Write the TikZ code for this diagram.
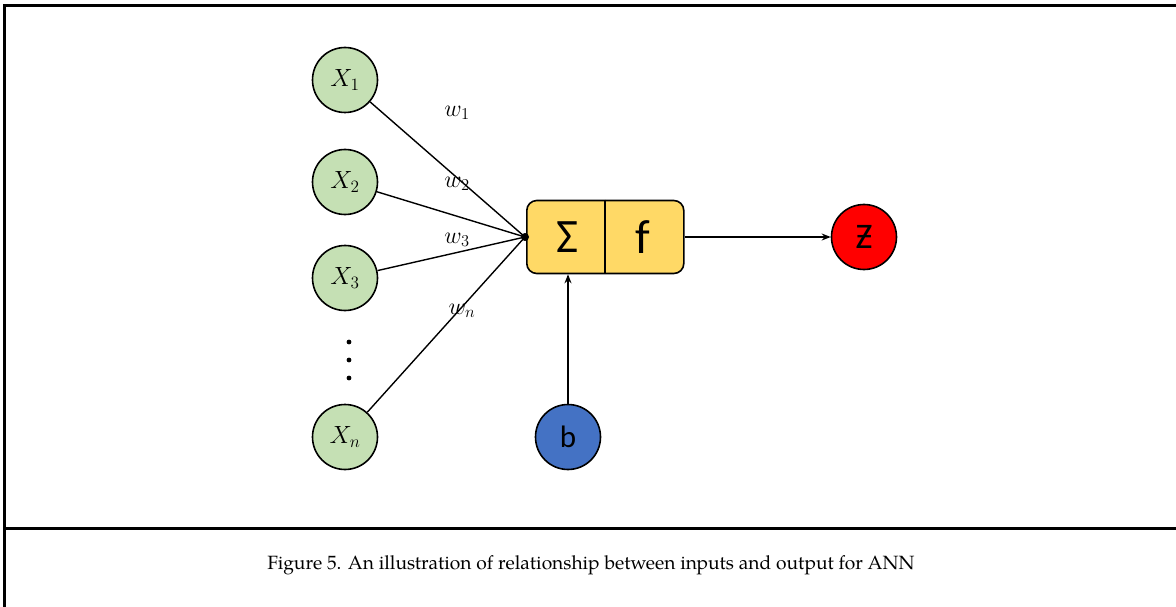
\documentclass[tikz,border=0pt]{standalone}
\usepackage{fontspec}
\newfontfamily\calfont{Carlito}
\newfontfamily\capfont{TeX Gyre Pagella}
\usetikzlibrary{arrows.meta,positioning}
\definecolor{ingreen}{HTML}{C5E0B4}
\definecolor{sumyellow}{HTML}{FFD966}
\definecolor{biasblue}{HTML}{4472C4}
\definecolor{outred}{HTML}{FF0000}
\newcommand{\biglbl}[2]{\scalebox{#1}{$#2$}}

\tikzset{
  neuron/.style={circle, draw=black, line width=1.6pt, minimum size=65pt, inner sep=0pt},
  weight/.style={font=\fontsize{20}{20}\selectfont},
  conn/.style={line width=1.4pt},
}

\begin{document}
\begin{tikzpicture}[x=1pt,y=-1pt]
\useasboundingbox (0,0) rectangle (1176,607);

%draw frame
\draw[line width=3pt] (4,607) -- (4,6) -- (1176,6);
\draw[line width=3pt] (4,528) -- (1176,528);

%draw input neurons
\foreach \i/\y in {1/80,2/182,3/278,n/437}
  \node[neuron, fill=ingreen, font=\fontsize{20}{20}\selectfont] (x\i) at (345,\y) {\biglbl{1.2}{X_{\i}}};
\foreach \y in {342,360,378}
  \fill (349,\y) circle (2.4pt);

%draw summation and activation
\node[draw, rounded corners=10pt, fill=sumyellow, line width=1.6pt,
      minimum width=157pt, minimum height=73pt, anchor=west] (box) at (526,237) {};
\coordinate (div) at (605,237);
\draw[line width=1.4pt] (div |- box.north) -- (div |- box.south);
\node[font=\calfont\fontsize{48}{48}\selectfont] (sigma) at (567,237) {Σ};
\node[font=\calfont\fontsize{48}{48}\selectfont] (act) at (643,237) {f};

%draw weighted connections
\coordinate (junc) at (525,237);
\foreach \i in {1,2,3,n}
  \draw[conn] (x\i) -- (junc);
\fill (junc) circle (4pt);
\node[weight] (w1) at (457,113) {\biglbl{1.15}{w_1}};
\node[weight] (w2) at (457,184) {\biglbl{1.15}{w_2}};
\node[weight] (w3) at (457,240) {\biglbl{1.15}{w_3}};
\node[weight] (wn) at (462,311) {\biglbl{1.15}{w_n}};

%draw bias and output
\node[neuron, fill=biasblue, font=\calfont\fontsize{31}{31}\selectfont] (b) at (568,437) {b};
\node[neuron, fill=outred, font=\calfont\fontsize{36}{36}\selectfont] (z) at (864,237) {Ƶ};
\draw[conn,-{Stealth[length=9pt,width=7pt]}] (b) -- (b |- box.south);
\draw[conn,-{Stealth[length=9pt,width=7pt]}] (box) -- (z);

%caption
\node[font=\capfont\fontsize{19.2}{19.2}\selectfont] (cap) at (591,565)
  {Figure 5. An illustration of relationship between inputs and output for ANN};
\end{tikzpicture}
\end{document}
